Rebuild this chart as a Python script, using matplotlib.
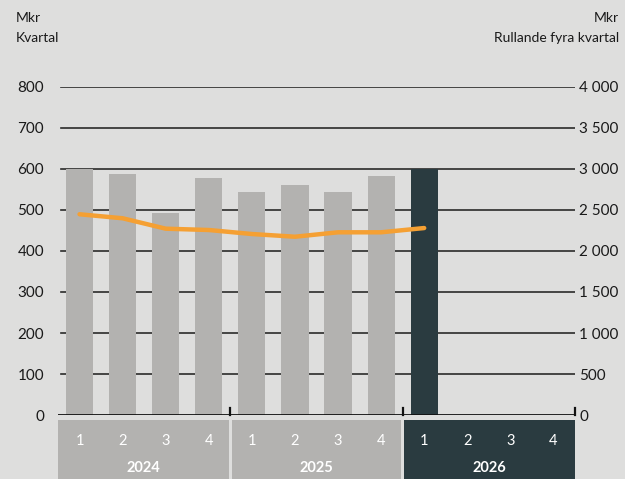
import matplotlib
matplotlib.use("Agg")
import matplotlib.pyplot as plt
from matplotlib.patches import Rectangle
import matplotlib.transforms as mtransforms

plt.rcParams['font.family'] = ['Lato', 'DejaVu Sans']

years = ["2024", "2025", "2026"]
quarters = ["1", "2", "3", "4"]
quarterly = [600, 588, 493, 578, 544, 561, 544, 583, 600]
rolling = [2448, 2399, 2272, 2256, 2207, 2174, 2228, 2228, 2280]
left_ticks = [0, 100, 200, 300, 400, 500, 600, 700, 800]
right_ticks = [0, 500, 1000, 1500, 2000, 2500, 3000, 3500, 4000]
right_labels = ["0", "500", "1 000", "1 500", "2 000", "2 500", "3 000", "3 500", "4 000"]

BG = "#DEDEDD"
GREY = "#B3B2B0"
DARK = "#2A3B40"
ORANGE = "#F5A033"

fig = plt.figure(figsize=(6.25, 4.79), dpi=100, facecolor=BG)
ax = fig.add_axes([58 / 625, 0.1336, 517 / 625, 0.6848])
ax.set_facecolor(BG)
ax.set_xlim(-0.5, 11.5)
ax.set_ylim(0, 800)

n = len(quarterly)
xs = list(range(n))
colors = [GREY] * 8 + [DARK] * (n - 8)
ax.bar(xs, quarterly, width=0.63, color=colors, zorder=2)

for v in left_ticks[1:]:
    ax.axhline(v, xmin=3 / 517, color="#2a2a2a", lw=1.2, zorder=1)
ax.axhline(0, color="#111111", lw=2.0, zorder=3)

for s in ax.spines.values():
    s.set_visible(False)
ax.set_xticks([])
ax.set_yticks(left_ticks)
ax.set_yticklabels([str(v) for v in left_ticks])
ax.tick_params(axis='y', length=0, pad=10, labelsize=11, labelcolor="#1a1a1a")

# year boundary ticks
for xb in [3.5, 7.5, 11.5]:
    ax.plot([xb, xb], [0, 17], color="#111111", lw=1.6, zorder=3, clip_on=False)

ax2 = ax.twinx()
ax2.set_ylim(0, 4000)
for s in ax2.spines.values():
    s.set_visible(False)
ax2.set_yticks(right_ticks)
ax2.set_yticklabels(right_labels)
ax2.tick_params(axis='y', length=0, pad=3, labelsize=11, labelcolor="#1a1a1a")
ax2.plot(xs, rolling, color=ORANGE, lw=3.2, solid_capstyle='round', solid_joinstyle='round', zorder=5)

# bottom category strip
trans = mtransforms.blended_transform_factory(ax.transData, fig.transFigure)
box_top = (479 - 420) / 479
spans = [(-0.5, 3.46), (3.54, 7.46), (7.54, 11.5)]
box_colors = [GREY, GREY, DARK]
for (a, b), c, yr, yi in zip(spans, box_colors, years, range(3)):
    fig.add_artist(Rectangle((a, 0), b - a, box_top, transform=trans, facecolor=c, edgecolor='none'))
    for qi, q in enumerate(quarters):
        xq = yi * 4 + qi
        fig.text(xq, (479 - 441) / 479, q, transform=trans, ha='center', va='center',
                 color='white', fontsize=10.5)
    fig.text((a + b) / 2, (479 - 468) / 479, yr, transform=trans, ha='center', va='center',
             color='white', fontsize=10.5, fontweight='bold')

fig.text(16 / 625, 1 - 18 / 479, "Mkr", ha='left', va='center', fontsize=10, color="#1a1a1a")
fig.text(16 / 625, 1 - 38 / 479, "Kvartal", ha='left', va='center', fontsize=10, color="#1a1a1a")
fig.text(619 / 625, 1 - 18 / 479, "Mkr", ha='right', va='center', fontsize=10, color="#1a1a1a")
fig.text(619 / 625, 1 - 38 / 479, "Rullande fyra kvartal", ha='right', va='center', fontsize=10, color="#1a1a1a")

fig.savefig("out.png", dpi=100, facecolor=BG)
